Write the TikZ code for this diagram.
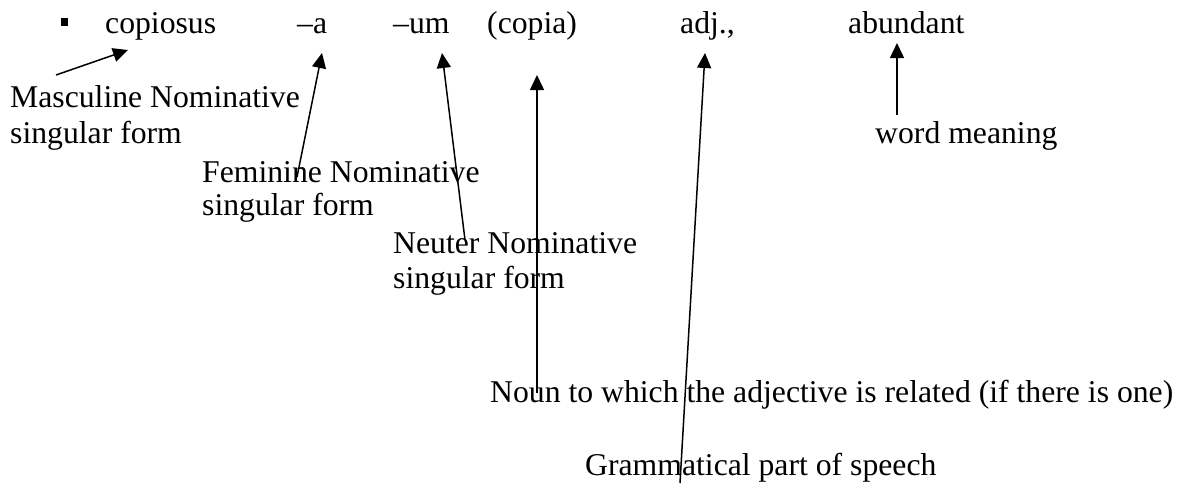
\documentclass[tikz,border=0pt]{standalone}
\usepackage{fontspec}
\setmainfont{Liberation Serif}
\usetikzlibrary{arrows.meta}
\begin{document}
\begin{tikzpicture}[x=1pt,y=-1pt,
  lbl/.style={anchor=base west,inner sep=0pt,font=\fontsize{31.7}{36}\selectfont},
  arr/.style={line width=1.5pt,-{Triangle[length=15pt,width=14pt]}},
  line/.style={line width=1.5pt}]
\useasboundingbox (0,0) rectangle (1185,483);
% top row
\node[fill=black,minimum size=7.5pt,inner sep=0pt] (bul) at (64.5,22) {};
\node[lbl] (cop) at (105,33) {copiosus};
\node[lbl] (fa) at (297,33) {–a};
\node[lbl] (um) at (393,33) {–um};
\node[lbl] (cp) at (487,33) {(copia)};
\node[lbl] (adj) at (680,33) {adj.,};
\node[lbl] (ab) at (848,33) {abundant};
% labels
\node[lbl] (masc1) at (10,107) {Masculine Nominative};
\node[lbl] (masc2) at (10,143) {singular form};
\node[lbl] (fem1) at (202,182) {Feminine Nominative};
\node[lbl] (fem2) at (202,215) {singular form};
\node[lbl] (neu1) at (393,253) {Neuter Nominative};
\node[lbl] (neu2) at (393,288) {singular form};
\node[lbl] (wm) at (875,143) {word meaning};
\node[lbl] (noun) at (490,402) {Noun to which the adjective is related (if there is one)};
\node[lbl] (gram) at (585,475) {Grammatical part of speech};
% connector ends
\coordinate (mascT) at (56,75);   \coordinate (mascH) at (128,50);
\coordinate (femT) at (297,177);  \coordinate (femH) at (322,53);
\coordinate (neuT) at (465,240);  \coordinate (neuH) at (442,53);
\coordinate (nounT) at (537,393); \coordinate (nounH) at (537,75);
\coordinate (gramT) at (680,483); \coordinate (gramH) at (705,53);
\coordinate (wmT) at (897,115);   \coordinate (wmH) at (897,43);
% arrows
\draw[arr] (mascT) -- (mascH);
\draw[arr] (femT) -- (femH);
\draw[arr] (neuT) -- (neuH);
\draw[arr] (nounT) -- (nounH);
\draw[arr] (gramT) -- (gramH);
\draw[arr] (wmT) -- (wmH);
\end{tikzpicture}
\end{document}
